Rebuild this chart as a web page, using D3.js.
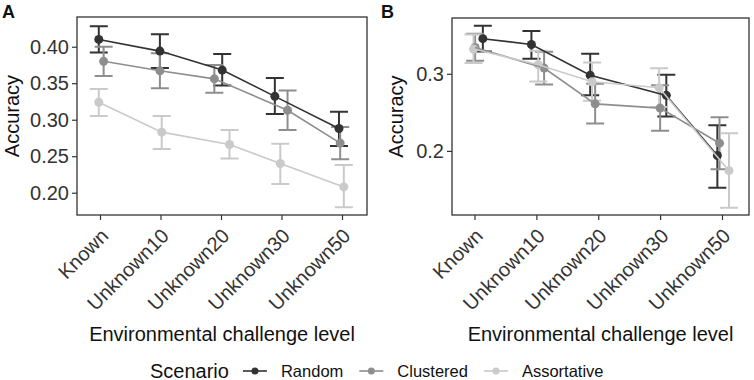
<!DOCTYPE html>
<html>
<head>
<meta charset="utf-8">
<script src="https://cdn.jsdelivr.net/npm/d3@7"></script>
<style>
  body { margin: 0; background: #fff; }
  svg { display: block; font-family: "Liberation Sans", Arial, Helvetica, sans-serif; }
</style>
</head>
<body>
<div id="chart-area"></div>
<script>
// Categories
const levels = ['Known', 'Unknown10', 'Unknown20', 'Unknown30', 'Unknown50'];
const scenarios = ['Random', 'Clustered', 'Assortative'];

// Panel A: mean accuracy with lower / upper error bar ends
const aRandom      = [0.410, 0.394, 0.368, 0.332, 0.288];
const aRandomLo    = [0.392, 0.371, 0.347, 0.308, 0.264];
const aRandomHi    = [0.428, 0.417, 0.390, 0.357, 0.311];
const aClustered   = [0.380, 0.367, 0.356, 0.313, 0.268];
const aClusteredLo = [0.360, 0.343, 0.337, 0.286, 0.246];
const aClusteredHi = [0.400, 0.391, 0.375, 0.340, 0.290];
const aAssort      = [0.324, 0.283, 0.266, 0.240, 0.208];
const aAssortLo    = [0.305, 0.260, 0.247, 0.212, 0.180];
const aAssortHi    = [0.342, 0.305, 0.286, 0.267, 0.238];

// Panel B
const bRandom      = [0.3455, 0.338, 0.298, 0.272, 0.194];
const bRandomLo    = [0.329, 0.3195, 0.272, 0.2446, 0.1523];
const bRandomHi    = [0.3623, 0.3554, 0.326, 0.2987, 0.2334];
const bClustered   = [0.334, 0.3074, 0.261, 0.2555, 0.210];
const bClusteredLo = [0.317, 0.286, 0.2355, 0.226, 0.1762];
const bClusteredHi = [0.352, 0.3286, 0.287, 0.285, 0.2437];
const bAssort      = [0.332, 0.3117, 0.2896, 0.282, 0.1744];
const bAssortLo    = [0.314, 0.290, 0.265, 0.257, 0.1264];
const bAssortHi    = [0.351, 0.330, 0.3147, 0.307, 0.223];

// Jitter of each point, as a fraction of one category step
const jitterA = [[-0.02, -0.01, 0.02, -0.11, -0.05],
                 [0.06, -0.01, -0.11, 0.10, -0.03],
                 [-0.02, 0.02, 0.14, -0.02, 0.03]];
const jitterB = [[0.135, -0.08, -0.13, 0.10, -0.075],
                 [0.01, 0.125, -0.05, 0.0, -0.04],
                 [-0.016, 0.03, -0.1, -0.016, 0.113]];

// Tick labels
const aTicks = [0.20, 0.25, 0.30, 0.35, 0.40];
const bTicks = [0.2, 0.3];

const colors = d3.scaleOrdinal().domain(scenarios).range(['#333333', '#8e8e8e', '#cacaca']);

const WIDTH = 754, HEIGHT = 380;
const svg = d3.select('#chart-area').append('svg')
    .attr('width', WIDTH)
    .attr('height', HEIGHT);

function drawPanel(opts) {
    const {tag, left, right, top, bottom, xPad, titleOffset, yDomain, ticks, fmt, series, jitter} = opts;

    const x = d3.scalePoint().domain(levels).range([left + xPad[0], right - xPad[1]]);
    const step = x.step();
    const y = d3.scaleLinear().domain(yDomain).range([bottom, top]);

    const g = svg.append('g');

    // panel tag
    svg.append('text')
        .attr('x', tag.x).attr('y', tag.y)
        .attr('font-size', '18px').attr('font-weight', 'bold')
        .attr('fill', '#111')
        .text(tag.label);

    // Y axis
    const yAxis = g.append('g')
        .attr('transform', `translate(${left},0)`)
        .call(d3.axisLeft(y).tickValues(ticks).tickFormat(d3.format(fmt)).tickSize(5).tickPadding(3));
    yAxis.select('.domain').remove();
    yAxis.selectAll('line').attr('stroke', '#333').attr('stroke-width', 1.2);
    yAxis.selectAll('text').attr('font-size', '20px').attr('fill', '#333').attr('font-family', null);

    // X axis
    const xAxis = g.append('g')
        .attr('transform', `translate(0,${bottom})`)
        .call(d3.axisBottom(x).tickSize(5).tickPadding(2));
    xAxis.select('.domain').remove();
    xAxis.selectAll('line').attr('stroke', '#333').attr('stroke-width', 1.2);
    xAxis.selectAll('text')
        .attr('font-size', '20px').attr('fill', '#333').attr('font-family', null)
        .attr('text-anchor', 'end')
        .attr('dy', '0.72em')
        .attr('transform', 'translate(-6,7) rotate(-45)');

    // Axis titles
    g.append('text')
        .attr('transform', `translate(${left - titleOffset},${(top + bottom) / 2}) rotate(-90)`)
        .attr('text-anchor', 'middle')
        .attr('font-size', '20px').attr('fill', '#111')
        .text('Accuracy');
    g.append('text')
        .attr('x', (left + right) / 2).attr('y', 341)
        .attr('text-anchor', 'middle')
        .attr('font-size', '20px').attr('fill', '#111')
        .text('Environmental challenge level');

    const rows = series.map((s, si) => levels.map((lev, i) => ({
        scenario: scenarios[si],
        px: x(lev) + jitter[si][i] * step,
        mean: s.mean[i], lo: s.lo[i], hi: s.hi[i]
    })));

    // Error bars
    rows.forEach(r => {
        const eb = g.append('g')
            .attr('stroke', colors(r[0].scenario))
            .attr('stroke-width', 2)
            .attr('fill', 'none');
        eb.selectAll('path').data(r).enter().append('path')
            .attr('d', d => `M${d.px - 9},${y(d.hi)}H${d.px + 9}M${d.px},${y(d.hi)}V${y(d.lo)}M${d.px - 9},${y(d.lo)}H${d.px + 9}`);
    });

    // Points
    rows.forEach(r => {
        g.append('g').selectAll('circle').data(r).enter().append('circle')
            .attr('cx', d => d.px)
            .attr('cy', d => y(d.mean))
            .attr('r', 4.5)
            .attr('fill', d => colors(d.scenario));
    });

    // Lines
    const line = d3.line().x(d => d.px).y(d => y(d.mean));
    rows.forEach(r => {
        g.append('path')
            .datum(r)
            .attr('d', line)
            .attr('fill', 'none')
            .attr('stroke', colors(r[0].scenario))
            .attr('stroke-width', 1.6);
    });

    // Panel border
    g.append('rect')
        .attr('x', left).attr('y', top)
        .attr('width', right - left).attr('height', bottom - top)
        .attr('fill', 'none')
        .attr('stroke', '#333')
        .attr('stroke-width', 1.3);
}

drawPanel({
    tag: {label: 'A', x: 2, y: 18},
    left: 77, right: 367, top: 17, bottom: 215,
    xPad: [23, 25],
    titleOffset: 58,
    yDomain: [0.1695, 0.4407],
    ticks: aTicks, fmt: '.2f',
    series: [
        {mean: aRandom, lo: aRandomLo, hi: aRandomHi},
        {mean: aClustered, lo: aClusteredLo, hi: aClusteredHi},
        {mean: aAssort, lo: aAssortLo, hi: aAssortHi}
    ],
    jitter: jitterA
});

drawPanel({
    tag: {label: 'B', x: 381, y: 18},
    left: 452, right: 749, top: 18, bottom: 215,
    xPad: [22.5, 27],
    titleOffset: 49,
    yDomain: [0.1169, 0.3723],
    ticks: bTicks, fmt: '.1f',
    series: [
        {mean: bRandom, lo: bRandomLo, hi: bRandomHi},
        {mean: bClustered, lo: bClusteredLo, hi: bClusteredHi},
        {mean: bAssort, lo: bAssortLo, hi: bAssortHi}
    ],
    jitter: jitterB
});

// Legend
const legend = svg.append('g').attr('transform', 'translate(150,371)');
const title = legend.append('text')
    .attr('y', 6.5)
    .attr('font-size', '20px').attr('fill', '#111')
    .text('Scenario');
let lx = title.node().getComputedTextLength() + 14;
scenarios.forEach(s => {
    const item = legend.append('g').attr('transform', `translate(${lx},0)`);
    item.append('line')
        .attr('x1', 0).attr('x2', 24)
        .attr('stroke', colors(s)).attr('stroke-width', 1.6);
    item.append('circle')
        .attr('cx', 12).attr('r', 3.5)
        .attr('fill', colors(s));
    const t = item.append('text')
        .attr('x', 38).attr('y', 6)
        .attr('font-size', '16.5px').attr('fill', '#111')
        .text(s);
    lx += 38 + t.node().getComputedTextLength() + 16;
});
</script>
</body>
</html>
